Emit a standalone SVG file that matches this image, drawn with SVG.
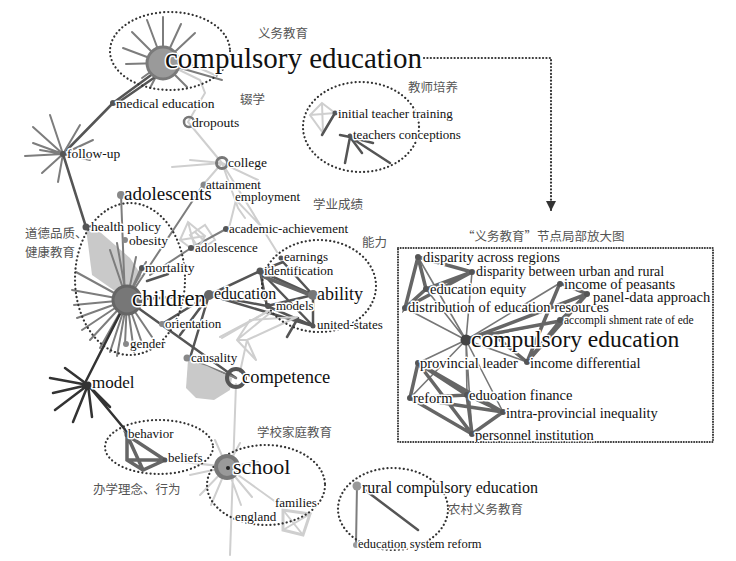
<svg xmlns="http://www.w3.org/2000/svg" width="736" height="561" viewBox="0 0 736 561">
<defs>
<style>
.lbl{font-family:"Liberation Serif",serif;fill:#111;stroke:#fff;stroke-width:3px;paint-order:stroke;stroke-linejoin:round}
.zh{font-family:"Noto Sans CJK SC","Noto Sans",sans-serif;fill:#555;font-size:12.5px}
.k{stroke:#333;stroke-width:2.5;stroke-linecap:round;fill:none}
.d{stroke:#555;stroke-width:2.5;stroke-linecap:round;fill:none}
.m{stroke:#7d7d7d;stroke-width:2;stroke-linecap:round;fill:none}
.l{stroke:#cfcfcf;stroke-width:2;stroke-linecap:round;fill:none}
.t{stroke:#666;stroke-width:3.5;stroke-linecap:round;fill:none}
.s{stroke:#777;stroke-width:1.6;stroke-linecap:round;fill:none}
.ring{fill:none;stroke:#333;stroke-width:2.2;stroke-dasharray:0.1 4;stroke-linecap:round}
.dot{fill:#555}
.gd{fill:#888}
</style>
<marker id="ah" viewBox="0 0 10 10" refX="10" refY="5" markerWidth="10" markerHeight="10" orient="auto" markerUnits="userSpaceOnUse">
<path d="M0,0 L10,5 L0,10 Z" fill="#333"/>
</marker>
<clipPath id="insetclip"><rect x="398" y="248" width="315" height="194"/></clipPath>
</defs>
<rect width="736" height="561" fill="#fff"/>

<g id="connectors">
<!-- compulsory education hub -->
<path class="m" d="M163,63L132,32M163,63L147,20M163,63L163,17M163,63L181,24M163,63L195,33M163,63L123,48M163,63L126,64M163,63L142,78M163,63L222,80M163,63L187,87M163,63L150,88"/>
<path class="l" d="M165,63L200,80L205,93L188,122M188,122L222,163M190,64L215,75"/>
<path class="d" d="M113,103L158,70M116,104L161,73"/>
<path class="d" d="M113,103L63,154"/>
<!-- follow-up -->
<path class="m" d="M63,154L50,115M63,154L33,127M63,154L80,125M63,154L25,156M63,154L33,143M63,154L42,173M63,154L58,182M63,154L90,160M63,154L93,140M63,154L40,150"/>
<path class="d" d="M63,154L86,227"/>
<!-- college area -->
<path class="l" d="M222,163L190,160M222,163L172,167M222,163L258,180M222,163L203,185M222,163L238,208L245,218M222,163L277,252M236,200L228,232M236,200L260,225M195,232L212,248M190,235L205,225L215,240L200,250Z"/>
<path class="m" d="M203,185L127,300"/>
<!-- academic / adolescence -->
<path class="m" d="M226,229L191,248L150,275"/>
<path class="l" d="M188,222L205,236L196,252L180,240ZM188,222L196,252M205,236L180,240"/>
<!-- children hub -->
<polygon points="86,228,92,275,125,298,142,276,130,258,100,232" fill="#c9c9c9"/>
<path class="m" d="M127,300L76,272M127,300L72,290M127,300L74,305M127,300L77,318M127,300L82,330M127,300L90,340M127,300L100,348M127,300L110,352M127,300L117,356M127,300L125,344M127,300L134,352M127,300L143,346M127,300L152,337M127,300L110,250M127,300L117,243M127,300L136,257M127,300L141,268M127,300L146,262"/>
<path class="m" d="M125,300L121,195"/>
<path class="d" d="M127,300L209,295M147,281L168,274M127,300L236,378"/>
<path class="k" d="M127,300L86,381"/>
<!-- education / ability -->
<path class="d" d="M209,295L260,271M209,295L267,306M209,295L313,326M260,271L313,295M260,271L313,326M283,262L313,295M267,306L313,295M267,306L313,326M313,295L313,326M260,271L267,306M298,318L287,337M283,262L260,271"/>
<path class="t" d="M262,276L313,296"/>
<path class="d" d="M209,295L190,358M206,300L180,335M162,324L209,295"/>
<path class="m" d="M187,358L236,378"/>
<!-- competence web -->
<polygon points="188,360,186,388,196,398,214,400,230,390,232,378,207,366" fill="#c9c9c9"/>
<path class="l" d="M237,340L270,313M247,340L297,317M237,340L247,340L256,360M237,340L256,360M247,340L240,372M220,337L267,312M237,340L250,320L297,317"/>
<path class="l" stroke-width="4" d="M222,338L268,311"/>
<!-- school -->
<path class="l" d="M236,384L230,555M227,467L165,460M227,467L215,440M227,467L240,443M227,467L190,475M227,467L200,495M227,467L211,505M227,467L241,505M227,467L252,497M227,467L280,505M227,467L187,462M227,467L258,462"/>
<polygon points="283,510,310,514,303,535,283,530" fill="none" stroke="#cfcfcf" stroke-width="3"/>
<path class="l" d="M283,510L303,535M310,514L283,530"/>
<!-- model hub -->
<path class="k" d="M88,385L65,368M88,385L50,378M88,385L53,393M88,385L55,410M88,385L73,422M88,385L92,417M88,385L110,407M88,385L127,432"/>
<!-- behavior cluster -->
<path class="t" stroke="#777" d="M127,435L127,460L143,470L165,460L127,435L143,470M127,460L165,460"/>
<!-- teacher cluster -->
<path class="l" d="M322,103L310,115L323,133L335,113ZM310,115L335,113M322,103L323,133"/>
<path class="d" d="M335,113L322,135M350,137L345,163M350,137L362,153M350,137L390,163M350,137L373,143M340,135L350,137"/>
<!-- rural -->
<path class="m" d="M357,485L356,545"/>
<path class="d" d="M365,490L418,530"/>
<!-- zoom arrow -->
<path d="M424,58H551V211" fill="none" stroke="#333" stroke-width="2.2" stroke-dasharray="0.1 3.3" stroke-linecap="round" marker-end="url(#ah)"/>
<!-- inset edges -->
<g clip-path="url(#insetclip)">
<path class="s" d="M466,340L418,257M466,340L472,272M466,340L426,289M466,340L405,308M466,340L560,283M466,340L587,294M466,340L560,321M466,340L418,363M466,340L527,362M466,340L410,398M466,340L467,395M466,340L503,412M466,340L472,434"/>
<path class="t" d="M418,257L472,272L426,289L405,308L418,257L426,289M405,308L472,272"/>
<path class="t" d="M560,283L587,294L560,321L527,362L560,283M587,294L527,362M466,340L587,294M560,321L470,338M527,362L500,340"/>
<path class="t" d="M418,363L410,398L467,395L503,412L472,434L410,398M418,363L467,395M418,363L503,412M410,398L503,412M467,395L472,434M418,363L472,434"/>
</g>
<rect x="398" y="248" width="315" height="194" fill="none" stroke="#333" stroke-width="2" stroke-dasharray="0.1 2.5" stroke-linecap="round"/>
</g>

<!-- cluster outlines -->
<g id="outlines">
<ellipse class="ring" cx="170" cy="51" rx="60" ry="39"/>
<ellipse class="ring" cx="361" cy="127" rx="58" ry="45"/>
<ellipse class="ring" cx="130" cy="279" rx="55" ry="76"/>
<ellipse class="ring" cx="319" cy="286" rx="57" ry="46"/>
<ellipse class="ring" cx="159" cy="447" rx="54" ry="27"/>
<ellipse class="ring" cx="266" cy="485" rx="59" ry="40"/>
<ellipse class="ring" cx="393" cy="509" rx="55" ry="41"/>
</g>

<g id="n-compulsory"><circle cx="163" cy="63" r="16" fill="#9a9a9a" stroke="#7a7a7a" stroke-width="3"/><text class="lbl" x="165" y="68" font-size="29">compulsory education</text></g>
<g id="n-medical"><circle class="dot" cx="113" cy="103" r="3"/><text class="lbl" x="116" y="108" font-size="13.5">medical education</text></g>
<g id="n-dropouts"><circle cx="189" cy="122" r="5" fill="none" stroke="#777" stroke-width="2.5"/><text class="lbl" x="192" y="127" font-size="13.5">dropouts</text></g>
<g id="n-followup"><circle class="dot" cx="63" cy="154" r="3"/><text class="lbl" x="67" y="158" font-size="13.5">follow-up</text></g>
<g id="n-college"><circle cx="222" cy="163" r="5.5" fill="none" stroke="#777" stroke-width="3"/><text class="lbl" x="228" y="167" font-size="13.5">college</text></g>
<g id="n-attainment"><circle class="gd" cx="204" cy="185" r="3.5"/><text class="lbl" x="206" y="189" font-size="13">attainment</text></g>
<g id="n-employment"><text class="lbl" x="235" y="201" font-size="13">employment</text></g>
<g id="n-adolescents"><circle class="gd" cx="121" cy="195" r="4"/><text class="lbl" x="124" y="200" font-size="19">adolescents</text></g>
<g id="n-initial"><circle class="dot" cx="335" cy="113" r="2.5"/><text class="lbl" x="338" y="118" font-size="13">initial teacher training</text></g>
<g id="n-conceptions"><circle class="dot" cx="350" cy="136" r="2.5"/><text class="lbl" x="353" y="139" font-size="13">teachers conceptions</text></g>
<g id="n-health"><circle cx="86" cy="227" r="3.5" fill="#555"/><text class="lbl" x="91" y="231" font-size="13.5">health policy</text></g>
<g id="n-obesity"><circle class="gd" cx="125" cy="240" r="3"/><text class="lbl" x="129" y="245" font-size="13.5">obesity</text></g>
<g id="n-academic"><circle class="dot" cx="226" cy="229" r="3"/><text class="lbl" x="229" y="233" font-size="13">academic-achievement</text></g>
<g id="n-adolescence"><circle class="dot" cx="191" cy="248" r="3"/><text class="lbl" x="195" y="252" font-size="13">adolescence</text></g>
<g id="n-earnings"><circle class="dot" cx="281" cy="258" r="2.5"/><text class="lbl" x="284" y="261" font-size="13">earnings</text></g>
<g id="n-identification"><circle class="dot" cx="260" cy="271" r="3.5"/><text class="lbl" x="264" y="275" font-size="13">identification</text></g>
<g id="n-mortality"><circle class="dot" cx="142" cy="268" r="3"/><text class="lbl" x="145" y="272" font-size="13.5">mortality</text></g>
<g id="n-children"><circle cx="127" cy="300" r="14" fill="#777" stroke="#666" stroke-width="3"/><text class="lbl" x="132" y="306" font-size="22.5">children</text></g>
<g id="n-education"><circle cx="209" cy="295" r="5" fill="#666"/><text class="lbl" x="214" y="299" font-size="16">education</text></g>
<g id="n-ability"><circle cx="313" cy="295" r="5" fill="#777"/><text class="lbl" x="317" y="300" font-size="18">ability</text></g>
<g id="n-models"><circle class="dot" cx="268" cy="306" r="3"/><text class="lbl" x="276" y="310" font-size="13">models</text></g>
<g id="n-united"><circle class="dot" cx="313" cy="326" r="2.5"/><text class="lbl" x="317" y="329" font-size="13">united-states</text></g>
<g id="n-orientation"><circle class="gd" cx="162" cy="324" r="3"/><text class="lbl" x="165" y="328" font-size="13">orientation</text></g>
<g id="n-gender"><circle class="gd" cx="126" cy="344" r="3"/><text class="lbl" x="130" y="348" font-size="13">gender</text></g>
<g id="n-causality"><circle class="gd" cx="187" cy="358" r="3.5"/><text class="lbl" x="191" y="362" font-size="13">causality</text></g>
<g id="n-competence"><circle cx="236" cy="378" r="9" fill="none" stroke="#555" stroke-width="4"/><text class="lbl" x="242" y="383" font-size="18.5">competence</text></g>
<g id="n-model"><circle cx="88" cy="385" r="3.5" fill="#333"/><text class="lbl" x="92" y="388" font-size="17">model</text></g>
<g id="n-behavior"><circle class="dot" cx="127" cy="435" r="2.5"/><text class="lbl" x="128" y="438" font-size="13">behavior</text></g>
<g id="n-beliefs"><circle class="dot" cx="165" cy="460" r="2.5"/><text class="lbl" x="168" y="462" font-size="13">beliefs</text></g>
<g id="n-school"><circle cx="227" cy="467" r="11" fill="#999" stroke="#777" stroke-width="4"/><circle cx="228" cy="468" r="2" fill="#222"/><text class="lbl" x="233" y="474" font-size="22">school</text></g>
<g id="n-families"><text class="lbl" x="275" y="507" font-size="13">families</text></g>
<g id="n-england"><text class="lbl" x="235" y="521" font-size="13">england</text></g>
<g id="n-rural"><circle cx="357" cy="486" r="4.5" fill="#999"/><text class="lbl" x="362" y="493" font-size="16">rural compulsory education</text></g>
<g id="n-esreform"><circle cx="356" cy="545" r="3" fill="#999"/><text class="lbl" x="358" y="548" font-size="12.5">education system reform</text></g>

<g id="cn-labels">
<text class="zh" x="258" y="38">义务教育</text>
<text class="zh" x="240" y="104">辍学</text>
<text class="zh" x="408" y="92">教师培养</text>
<text class="zh" x="313" y="209">学业成绩</text>
<text class="zh" x="362" y="247">能力</text>
<text class="zh" x="25" y="238">道德品质、</text>
<text class="zh" x="25" y="257">健康教育</text>
<text class="zh" x="257" y="437">学校家庭教育</text>
<text class="zh" x="93" y="494">办学理念、行为</text>
<text class="zh" x="448" y="514">农村义务教育</text>
<text class="zh" x="462" y="241">“义务教育”节点局部放大图</text>
</g>

<g id="inset-nodes" clip-path="url(#insetclip)">
<g id="i-disparity-regions"><circle class="dot" cx="418" cy="257" r="3"/><text class="lbl" x="423" y="262" font-size="14.5">disparity across regions</text></g>
<g id="i-disparity-urban"><circle class="dot" cx="472" cy="272" r="3"/><text class="lbl" x="476" y="276" font-size="14">disparity between urban and rural</text></g>
<g id="i-equity"><circle class="dot" cx="426" cy="289" r="3"/><text class="lbl" x="430" y="294" font-size="14.5">education equity</text></g>
<g id="i-distribution"><circle class="dot" cx="405" cy="308" r="3"/><text class="lbl" x="408" y="312" font-size="14.5">distribution of education resources</text></g>
<g id="i-peasants"><circle class="dot" cx="560" cy="284" r="3"/><text class="lbl" x="564" y="289" font-size="14.5">income of peasants</text></g>
<g id="i-panel"><circle class="dot" cx="587" cy="294" r="3"/><text class="lbl" x="593" y="302" font-size="14.5">panel-data approach</text></g>
<g id="i-accomp"><circle class="dot" cx="560" cy="320" r="3"/><text class="lbl" x="564" y="324" font-size="11.5">accompli shment rate of ede</text></g>
<g id="i-compulsory"><circle cx="466" cy="340" r="5.5" fill="#444"/><text class="lbl" x="471" y="347" font-size="23.5">compulsory education</text></g>
<g id="i-provincial"><circle class="dot" cx="418" cy="363" r="3"/><text class="lbl" x="420" y="368" font-size="14.5">provincial leader</text></g>
<g id="i-income-diff"><circle class="dot" cx="527" cy="362" r="3"/><text class="lbl" x="530" y="368" font-size="14.5">income differential</text></g>
<g id="i-reform"><circle class="dot" cx="410" cy="398" r="3"/><text class="lbl" x="413" y="403" font-size="14.5">reform</text></g>
<g id="i-finance"><circle class="dot" cx="467" cy="395" r="3"/><text class="lbl" x="469" y="400" font-size="14.5">eduoation finance</text></g>
<g id="i-intra"><circle class="dot" cx="503" cy="412" r="3"/><text class="lbl" x="506" y="418" font-size="14.5">intra-provincial inequality</text></g>
<g id="i-personnel"><circle class="dot" cx="472" cy="434" r="3"/><text class="lbl" x="475" y="440" font-size="14.5">personnel institution</text></g>
</g>
</svg>
